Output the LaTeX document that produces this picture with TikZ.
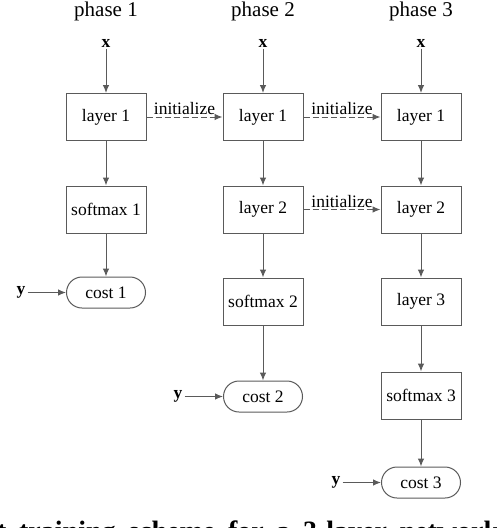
\documentclass[tikz,border=0pt]{standalone}
\usepackage{fontspec}
\setmainfont{Liberation Serif}
\usetikzlibrary{arrows.meta}
\definecolor{linegray}{HTML}{5A5A5A}
\tikzset{
  boxnode/.style={draw=linegray, line width=1pt, minimum width=80pt, minimum height=47pt, inner sep=0pt, font=\fontsize{17.5}{20}\selectfont},
  costnode/.style={draw=linegray, line width=1pt, rounded corners=15.5pt, minimum width=79pt, minimum height=31pt, inner sep=0pt, font=\fontsize{17.5}{20}\selectfont},
  phaselbl/.style={anchor=base, inner sep=0pt, font=\fontsize{21}{24}\selectfont},
  inlbl/.style={anchor=base, inner sep=1.5pt, font=\fontsize{17.5}{20}\selectfont\bfseries},
  ylbl/.style={anchor=mid, inner sep=2pt, font=\fontsize{17.5}{20}\selectfont\bfseries},
  arr/.style={draw=linegray, line width=1pt, -{Latex[length=8pt,width=6.5pt]}},
  initarr/.style={arr, dash pattern=on 6pt off 3pt},
  initlbl/.style={above, inner sep=1.5pt, font=\fontsize{17.5}{20}\selectfont}
}
\begin{document}
\begin{tikzpicture}[x=1pt,y=-1pt]
\useasboundingbox (0,0) rectangle (496,528);
\clip (0,0) rectangle (496,528);

% phase labels
\node[phaselbl] (p1) at (106,16) {phase 1};
\node[phaselbl] (p2) at (263,16) {phase 2};
\node[phaselbl] (p3) at (421,16) {phase 3};

% inputs
\node[inlbl] (x1) at (106,47) {x};
\node[inlbl] (x2) at (263,47) {x};
\node[inlbl] (x3) at (421,47) {x};

% phase 1
\node[boxnode] (a1) at (106,117) {layer 1};
\node[boxnode] (a2) at (106,209.5) {softmax 1};
\node[costnode] (ac) at (106,292.5) {cost 1};
\node[ylbl] (ay) at (21,292.5) {y};

% phase 2
\node[boxnode] (b1) at (263,117) {layer 1};
\node[boxnode] (b2) at (263,209.5) {layer 2};
\node[boxnode] (b3) at (263,301.5) {softmax 2};
\node[costnode] (bc) at (263,396.5) {cost 2};
\node[ylbl] (by) at (178,396.5) {y};

% phase 3
\node[boxnode] (c1) at (421,117) {layer 1};
\node[boxnode] (c2) at (421,209.5) {layer 2};
\node[boxnode] (c3) at (421,301.5) {layer 3};
\node[boxnode] (c4) at (421,395.5) {softmax 3};
\node[costnode] (cc) at (421,482.5) {cost 3};
\node[ylbl] (cy) at (336,482.5) {y};

% vertical arrows
\draw[arr] (x1) -- (a1);
\draw[arr] (a1) -- (a2);
\draw[arr] (a2) -- (ac);
\draw[arr] (x2) -- (b1);
\draw[arr] (b1) -- (b2);
\draw[arr] (b2) -- (b3);
\draw[arr] (b3) -- (bc);
\draw[arr] (x3) -- (c1);
\draw[arr] (c1) -- (c2);
\draw[arr] (c2) -- (c3);
\draw[arr] (c3) -- (c4);
\draw[arr] (c4) -- (cc);

% label arrows
\draw[arr] (ay.mid east) -- (ac.west);
\draw[arr] (by.mid east) -- (bc.west);
\draw[arr] (cy.mid east) -- (cc.west);

% initialize arrows
\draw[initarr] (a1.east) -- node[initlbl] {initialize} (b1.west);
\draw[initarr] (b1.east) -- node[initlbl] {initialize} (c1.west);
\draw[initarr] (b2.east) -- node[initlbl] {initialize} (c2.west);

% cut-off caption (only the tops of its letters show)
\node[anchor=base west, inner sep=0pt, font=\fontsize{28}{32}\selectfont\bfseries] (cap) at (-3,540)
  {\makebox[502pt][s]{t training scheme for a 3-layer network}};
\end{tikzpicture}
\end{document}
